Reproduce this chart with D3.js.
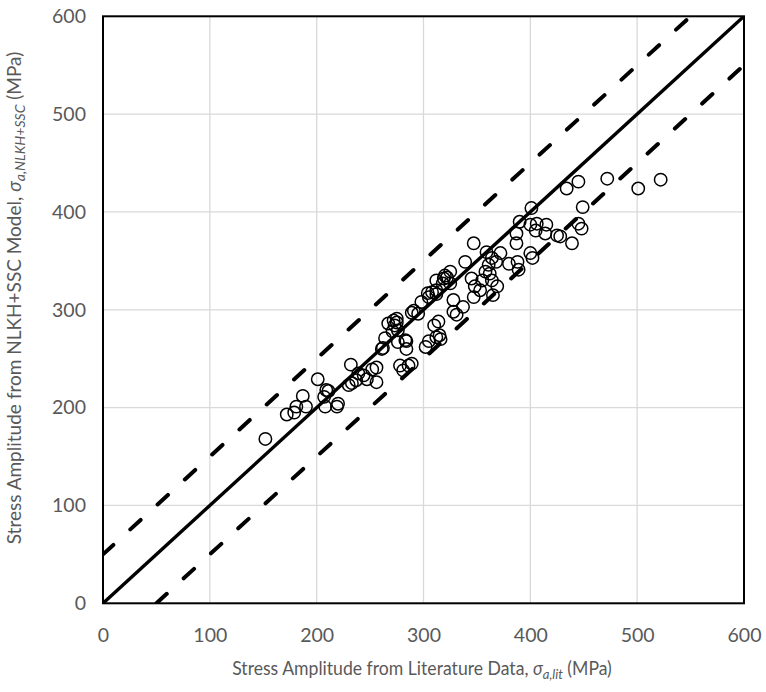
<!DOCTYPE html>
<html><head><meta charset="utf-8">
<script src="https://cdn.jsdelivr.net/npm/d3@7"></script>
<style>body{margin:0;background:#fff}svg{display:block}</style>
</head><body>
<svg id="chart" width="766" height="692"></svg>
<script>
const xTicks = [0,100,200,300,400,500,600];
const yTicks = [0,100,200,300,400,500,600];
const xLit = [
152,172,179,181,187,190,201,207,208,209,211,219,220,
230,232,233,237,239,244,247,252,256,256,262,264,261,
271,273,275,276,276,278,281,283,284,286,289,289,291,295,298,302,304,305,308,310,312,312,315,316,318,320,322,267,272,275,284,
305,312,314,319,325,325,328,331,337,328,339,345,347,348,353,355,359,361,362,358,364,365,364,369,372,368,380,347,312,
401,390,400,406,415,414,425,405,387,387,400,402,388,389,445,434,472,501,522,449,445,448,428,439];
const yModel = [
168,193,195,201,212,201,229,211,201,218,217,201,204,
223,244,225,228,235,233,229,239,241,226,261,271,260,
278,284,287,279,267,243,238,269,260,243,245,297,299,296,308,262,317,268,318,284,272,316,274,270,327,335,333,286,289,291,268,
313,320,288,332,339,327,310,295,303,298,349,332,368,324,320,330,359,346,337,339,330,315,353,324,358,349,347,313,330,
404,390,387,388,387,378,376,381,378,368,358,353,349,341,431,424,434,424,433,405,388,383,375,368];

const svg = d3.select('#chart');
const L=103, T=16.3, W=641, H=587;
const x = d3.scaleLinear().domain([0,600]).range([L,L+W]);
const y = d3.scaleLinear().domain([0,600]).range([T+H,T]);
const ff='Lato, "Open Sans", sans-serif';
const grey='#595959';

// grid
svg.append('g').selectAll('line').data(xTicks.slice(1,-1)).join('line')
 .attr('x1',d=>x(d)).attr('x2',d=>x(d)).attr('y1',T).attr('y2',T+H)
 .attr('stroke','#d9d9d9').attr('stroke-width',1.3);
svg.append('g').selectAll('line').data(yTicks.slice(1,-1)).join('line')
 .attr('y1',d=>y(d)).attr('y2',d=>y(d)).attr('x1',L).attr('x2',L+W)
 .attr('stroke','#d9d9d9').attr('stroke-width',1.3);

// axes tick labels
const xa = d3.axisBottom(x).tickValues(xTicks).tickSize(0).tickPadding(25);
const ya = d3.axisLeft(y).tickValues(yTicks).tickSize(0).tickPadding(17);
const gx = svg.append('g').attr('transform',`translate(0,${T+H})`).call(xa);
const gy = svg.append('g').attr('transform',`translate(${L},0)`).call(ya);
[gx,gy].forEach(a=>{a.select('.domain').remove();
 a.selectAll('text').attr('fill',grey).style('font-family',ff).style('font-size','19.5px');});

// clip
svg.append('clipPath').attr('id','cp').append('rect').attr('x',L).attr('y',T).attr('width',W).attr('height',H);
const pg = svg.append('g').attr('clip-path','url(#cp)');

// points
pg.selectAll('circle').data(xLit.map((v,i)=>[v,yModel[i]])).join('circle')
 .attr('cx',d=>x(d[0])).attr('cy',d=>y(d[1])).attr('r',6.2)
 .attr('fill','none').attr('stroke','#000').attr('stroke-width',1.5);

// lines
const line = d3.line().x(d=>x(d[0])).y(d=>y(d[1]));
pg.append('path').attr('d',line([[0,0],[600,600]])).attr('stroke','#000').attr('stroke-width',3.4).attr('fill','none');
[[[0,50],[550,600]],[[50,0],[600,550]]].forEach(seg=>{
 pg.append('path').attr('d',line(seg)).attr('stroke','#000').attr('stroke-width',4)
  .attr('stroke-dasharray','14 23').attr('stroke-linecap','round').attr('fill','none');
});

// frame
svg.append('rect').attr('x',L).attr('y',T).attr('width',W).attr('height',H)
 .attr('fill','none').attr('stroke','#000').attr('stroke-width',2);

// titles (font narrowed horizontally to mimic Calibri proportions)
function title(tx, ty, rot, main, sub, target){
 const g = svg.append('g');
 const el = g.append('text').attr('text-anchor','middle')
  .attr('fill',grey).style('font-family',ff).style('font-size','19px');
 el.append('tspan').text(main);
 el.append('tspan').text('σ').style('font-style','italic');
 el.append('tspan').text(sub).style('font-style','italic').style('font-size','14px').attr('dy',4);
 el.append('tspan').text(' (MPa)').attr('dy',-4);
 const w = el.node().getComputedTextLength();
 const s = Math.min(1, target/w);
 g.attr('transform',`translate(${tx},${ty}) rotate(${rot}) scale(${s},1)`);
}
title(422,675,0,'Stress Amplitude from Literature Data, ','a,lit',380);
title(21,298,-90,'Stress Amplitude from NLKH+SSC Model, ','a,NLKH+SSC',537);
</script>
</body></html>
